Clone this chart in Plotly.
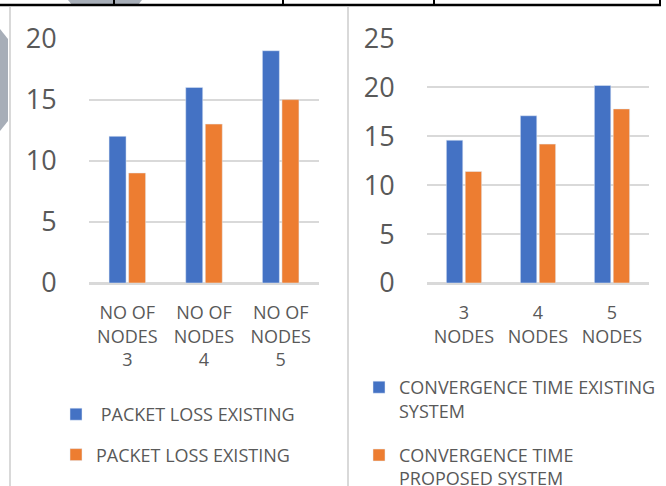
import plotly.graph_objects as go

# ---- data ----
categories_left = ["NO OF<br>NODES<br>3", "NO OF<br>NODES<br>4", "NO OF<br>NODES<br>5"]
categories_right = ["3<br>NODES", "4<br>NODES", "5<br>NODES"]
packet_loss_existing = [12, 16, 19]
packet_loss_second = [9, 13, 15]
conv_time_existing = [14.6, 17.1, 20.2]
conv_time_proposed = [11.4, 14.2, 17.8]
left_ticks = [0, 5, 10, 15, 20]
right_ticks = [0, 5, 10, 15, 20, 25]

BLUE = "#4472C4"
ORANGE = "#ED7D31"
TXT = "#595959"
GRID = "#D9D9D9"
FONT = "Open Sans"

W, H = 666, 486


def px(x):
    return x / W


def py(y):
    return 1 - y / H


fig = go.Figure()
fig.add_trace(go.Bar(x=categories_left, y=packet_loss_existing, name="\u00a0PACKET LOSS EXISTING",
                     marker_color=BLUE, xaxis="x", yaxis="y", legend="legend", legendgroup="a"))
fig.add_trace(go.Bar(x=categories_left, y=packet_loss_second, name="PACKET LOSS EXISTING",
                     marker_color=ORANGE, xaxis="x", yaxis="y", legend="legend", legendgroup="b"))
fig.add_trace(go.Bar(x=categories_right, y=conv_time_existing, name="CONVERGENCE TIME EXISTING<br>SYSTEM",
                     marker_color=BLUE, xaxis="x2", yaxis="y2", legend="legend2", legendgroup="c"))
fig.add_trace(go.Bar(x=categories_right, y=conv_time_proposed, name="CONVERGENCE TIME<br>PROPOSED SYSTEM",
                     marker_color=ORANGE, xaxis="x2", yaxis="y2", legend="legend2", legendgroup="d"))

ydom = [py(283), py(38.5)]
xcommon = dict(showgrid=False, showline=True, linecolor=GRID, linewidth=1.5,
               ticks="outside", ticklen=13, tickcolor="rgba(0,0,0,0)",
               tickfont=dict(family=FONT, size=18, color=TXT), fixedrange=True)
ycommon = dict(showgrid=True, gridcolor=GRID, gridwidth=1.5, zeroline=True, zerolinecolor=GRID,
               zerolinewidth=1.5, showline=False, ticks="outside", ticklen=26,
               tickcolor="rgba(0,0,0,0)", tickfont=dict(family=FONT, size=27, color=TXT), fixedrange=True)

legcommon = dict(font=dict(family=FONT, size=18, color=TXT), bgcolor="rgba(0,0,0,0)",
                 xanchor="left", yanchor="top", valign="top", orientation="v")

shapes = []
# table border fragments at top
shapes.append(dict(type="path", xref="paper", yref="paper",
                   path=f"M{px(68)},{py(0)} L{px(142)},{py(0)} L{px(138)},{py(5)} L{px(72)},{py(5)} Z",
                   fillcolor="#A7AEB8", line=dict(width=0)))
shapes.append(dict(type="path", xref="paper", yref="paper",
                   path=f"M{px(0)},{py(29)} L{px(8)},{py(39)} L{px(8)},{py(121)} L{px(0)},{py(131)} Z",
                   fillcolor="#A7AEB8", line=dict(width=0)))
shapes.append(dict(type="line", xref="paper", yref="paper", x0=px(0), x1=px(661), y0=py(5), y1=py(5),
                   line=dict(color="black", width=2.5)))
for vx in [114, 283, 434, 660]:
    shapes.append(dict(type="line", xref="paper", yref="paper", x0=px(vx), x1=px(vx), y0=py(0), y1=py(5),
                       line=dict(color="black", width=2)))
# chart panel borders
for vx in [10, 348]:
    shapes.append(dict(type="line", xref="paper", yref="paper", x0=px(vx), x1=px(vx), y0=py(7), y1=py(486),
                       line=dict(color=GRID, width=2)))

fig.update_layout(
    width=W, height=H, margin=dict(l=0, r=0, t=0, b=0, autoexpand=False),
    paper_bgcolor="white", plot_bgcolor="white",
    barmode="group", bargap=0.49, bargroupgap=0.13,
    xaxis=dict(domain=[px(89), px(319)], anchor="y", **xcommon),
    yaxis=dict(domain=ydom, anchor="x", range=[0, 20], tickvals=left_ticks, **ycommon),
    xaxis2=dict(domain=[px(427), px(649)], anchor="y2", **xcommon),
    yaxis2=dict(domain=ydom, anchor="x2", range=[0, 25], tickvals=right_ticks, **ycommon),
    legend=dict(x=px(56), y=py(396), tracegroupgap=14, **legcommon),
    legend2=dict(x=px(359), y=py(369), tracegroupgap=18, **legcommon),
    shapes=shapes,
    showlegend=True,
)

fig.write_html("out.html", config={"displayModeBar": False},
               post_script="document.body.style.margin='0px';")
